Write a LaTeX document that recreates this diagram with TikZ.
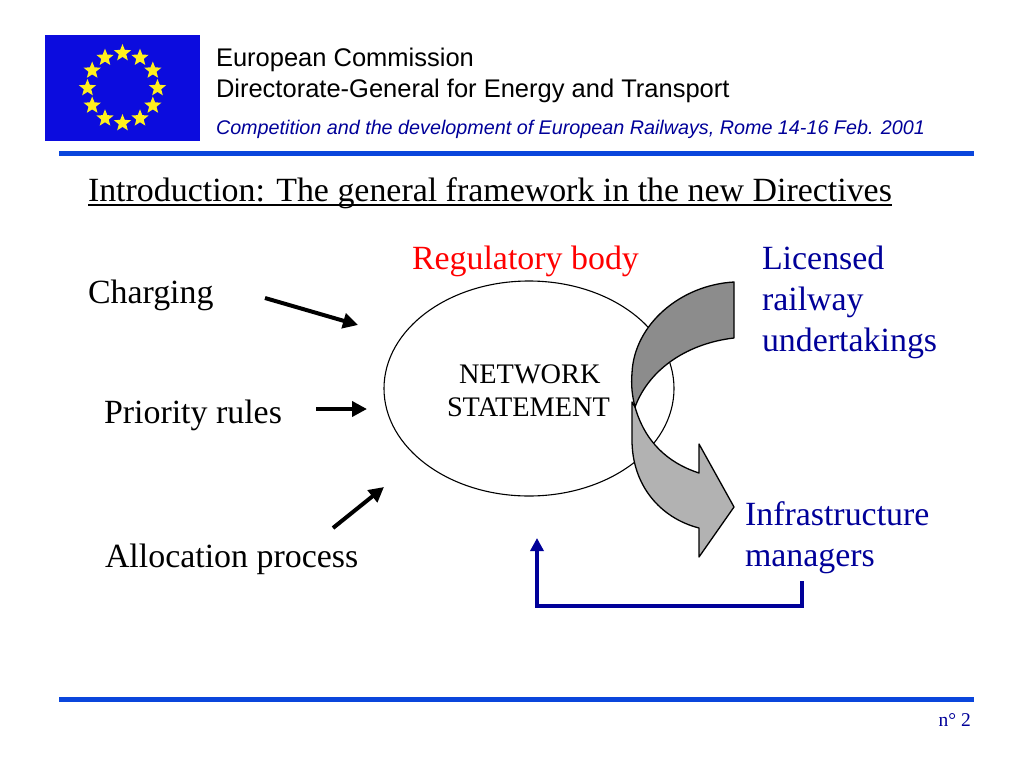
\documentclass[tikz,border=0pt]{standalone}
\usepackage{fontspec}
\setmainfont{Liberation Serif}
\newfontfamily\hdr{Liberation Sans}
\usetikzlibrary{arrows.meta,shapes.geometric,calc}
\definecolor{navy}{RGB}{0,0,153}
\definecolor{ruleblue}{RGB}{10,70,220}
\definecolor{flagblue}{RGB}{12,12,222}
\definecolor{stary}{RGB}{255,240,30}
\definecolor{darkgrey}{RGB}{140,140,140}
\definecolor{lightgrey}{RGB}{178,178,178}
\newcommand{\fs}[1]{\fontsize{#1}{#1}\selectfont}
\tikzset{
  lbl/.style={anchor=base west,inner sep=0pt,outer sep=0pt},
  big/.style={lbl,font=\fs{33.9}},
  bignavy/.style={big,text=navy},
  mid/.style={lbl,font=\fs{28.3}},
  head/.style={lbl,font=\hdr\fs{25.5}},
  rulebar/.style={draw=ruleblue,line width=5pt},
  flowarrow/.style={line width=4pt,-{Triangle[length=15pt,width=15pt]}},
  backarrow/.style={draw=navy,line width=4pt,-{Triangle[length=13pt,width=13pt]}},
  ribbon/.style={draw=black,line width=1.3pt,line join=round},
  eustar/.style={star,star points=5,star point ratio=2.3,minimum size=18pt,inner sep=0pt,fill=stary}
}
\begin{document}
\begin{tikzpicture}[x=1pt,y=-1pt]
\useasboundingbox (0,0) rectangle (1024,768);
% flag
\node[fill=flagblue,minimum width=155pt,minimum height=106pt,inner sep=0pt,anchor=north west] (flag) at (45,35) {};
\foreach \a in {0,30,...,330}
  \node[eustar] (s\a) at ($(122.5,88)+(\a:35)$) {};
% header
\node[head] (h1) at (216,66.5) {European Commission};
\node[head] (h2) at (216,97) {Directorate-General for Energy and Transport};
\node[lbl,font=\hdr\itshape\fs{19.75},text=navy] (h3) at (216,134) {Competition and the development of European Railways, Rome 14-16 Feb. 2001};
% rules
\coordinate (r1a) at (59,153); \coordinate (r1b) at (974,153);
\coordinate (r2a) at (59,699); \coordinate (r2b) at (974,699);
\draw[rulebar] (r1a) -- (r1b);
\draw[rulebar] (r2a) -- (r2b);
% title
\node[big] (title) at (88,201) {Introduction: The general framework in the new Directives};
\coordinate (ula) at (88,205); \coordinate (ulb) at (892,205);
\draw[line width=2pt] (ula) -- (ulb);
% ellipse
\node[draw=black,line width=1.1pt,ellipse,minimum width=290pt,minimum height=215pt,inner sep=0pt] (ns) at (529,388.5) {};
\node[mid] (n1) at (459,383) {NETWORK};
\node[mid] (n2) at (447,416) {STATEMENT};
% labels
\node[big,text=red] (reg) at (412,269) {Regulatory body};
\node[bignavy] (lic1) at (762,269) {Licensed};
\node[bignavy] (lic2) at (762,310) {railway};
\node[bignavy] (lic3) at (762,351) {undertakings};
\node[bignavy] (inf1) at (745,525) {Infrastructure};
\node[bignavy] (inf2) at (745,566) {managers};
\node[big] (chg) at (88,303) {Charging};
\node[big] (pri) at (104,423) {Priority rules};
\node[big] (all) at (105,567) {Allocation process};
\node[anchor=base east,inner sep=0pt,text=navy,font=\fs{19.5}] (pg) at (971,726) {n° 2};
% black arrows
\coordinate (a1s) at (265,298); \coordinate (a1e) at (358,325);
\coordinate (a2s) at (316,409); \coordinate (a2e) at (367,409);
\coordinate (a3s) at (333,528); \coordinate (a3e) at (384,487);
\draw[flowarrow] (a1s) -- (a1e);
\draw[flowarrow] (a2s) -- (a2e);
\draw[flowarrow] (a3s) -- (a3e);
% feedback arrow
\coordinate (b1) at (802,581); \coordinate (b2) at (802,606);
\coordinate (b3) at (537,606); \coordinate (b4) at (537,538);
\draw[backarrow,line join=miter] (b1) -- (b2) -- (b3) -- (b4);
% curved ribbons
\draw[ribbon,fill=lightgrey] (632,402) -- (632,440)
  .. controls (632,485) and (660,518) .. (699,528)
  -- (699,557) -- (734,507) -- (699,444) -- (699,473)
  .. controls (668,463) and (645,442) .. (635,407) -- cycle;
\draw[ribbon,fill=darkgrey] (734,282) -- (734,338)
  .. controls (690,343) and (650,367) .. (635,407)
  .. controls (632,395) and (631,385) .. (632,373)
  .. controls (634,325) and (680,285) .. (734,282) -- cycle;
\end{tikzpicture}
\end{document}
